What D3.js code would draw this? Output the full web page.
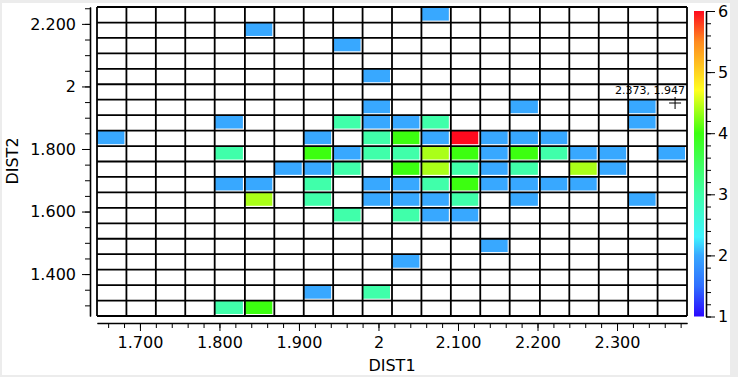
<!DOCTYPE html>
<html>
<head>
<meta charset="utf-8">
<script src="https://cdn.jsdelivr.net/npm/d3@7/dist/d3.min.js"></script>
<style>
body { margin: 0; background: #ececec; }
svg { display: block; font-family: "DejaVu Sans", sans-serif; }
</style>
</head>
<body>
<svg id="chart" width="738" height="377"></svg>
<script>
// lower edges of the DIST1 bins, left to right
var dist1Bins = [1.646, 1.683, 1.720, 1.757, 1.794, 1.832, 1.869, 1.906, 1.943, 1.980,
                 2.017, 2.054, 2.091, 2.128, 2.165, 2.203, 2.240, 2.277, 2.314, 2.351];
var dist1Max = 2.388;
// lower edges of the DIST2 bins, top row first
var dist2Bins = [2.204, 2.155, 2.106, 2.056, 2.007, 1.958, 1.908, 1.859, 1.809, 1.760,
                 1.711, 1.661, 1.612, 1.562, 1.513, 1.464, 1.414, 1.365, 1.315, 1.266];
var dist2Max = 2.254;

// one row per DIST2 bin (top first), one column per DIST1 bin, 0 = empty
var counts = [
  [0,0,0,0,0,0,0,0,0,0,0,2,0,0,0,0,0,0,0,0],
  [0,0,0,0,0,2,0,0,0,0,0,0,0,0,0,0,0,0,0,0],
  [0,0,0,0,0,0,0,0,2,0,0,0,0,0,0,0,0,0,0,0],
  [0,0,0,0,0,0,0,0,0,0,0,0,0,0,0,0,0,0,0,0],
  [0,0,0,0,0,0,0,0,0,2,0,0,0,0,0,0,0,0,0,0],
  [0,0,0,0,0,0,0,0,0,0,0,0,0,0,0,0,0,0,0,0],
  [0,0,0,0,0,0,0,0,0,2,0,0,0,0,2,0,0,0,2,0],
  [0,0,0,0,2,0,0,0,3,2,2,3,0,0,0,0,0,0,2,0],
  [2,0,0,0,0,0,0,2,0,3,4,2,6,2,2,2,0,0,0,0],
  [0,0,0,0,3,0,0,4,2,3,3,4.4,4,2,4,3,2,2,0,2],
  [0,0,0,0,0,0,2,2,3,0,4,4.4,3,2,3,0,4.4,2,0,0],
  [0,0,0,0,2,2,0,3,0,2,2,3,4,2,2,2,2,0,0,0],
  [0,0,0,0,0,4.4,0,3,0,2,2,2,3,0,2,0,0,0,2,0],
  [0,0,0,0,0,0,0,0,3,0,3,2,2,0,0,0,0,0,0,0],
  [0,0,0,0,0,0,0,0,0,0,0,0,0,0,0,0,0,0,0,0],
  [0,0,0,0,0,0,0,0,0,0,0,0,0,2,0,0,0,0,0,0],
  [0,0,0,0,0,0,0,0,0,0,2,0,0,0,0,0,0,0,0,0],
  [0,0,0,0,0,0,0,0,0,0,0,0,0,0,0,0,0,0,0,0],
  [0,0,0,0,0,0,0,2,0,3,0,0,0,0,0,0,0,0,0,0],
  [0,0,0,0,3,4,0,0,0,0,0,0,0,0,0,0,0,0,0,0]
];

var xTicks = [1.7, 1.8, 1.9, 2, 2.1, 2.2, 2.3];
var yTicks = [1.4, 1.6, 1.8, 2, 2.2];
var colorTicks = [1, 2, 3, 4, 5, 6];
var colorStops = [1, 1.5, 2, 2.3, 3, 3.5, 4, 4.4, 4.7, 5.5, 6];
var colorValues = ['#2a08ff', '#3070ff', '#38a8ff', '#40f4ff', '#40ffaa', '#40ff60',
                   '#3cff10', '#aaff18', '#ffff20', '#ff8a20', '#ff0a1e'];
var cursorPos = [2.373, 1.947];
var cursorLabel = '2.373, 1.947';

var svg = d3.select('#chart');

svg.append('rect')
    .attr('x', 2).attr('y', 3)
    .attr('width', 728).attr('height', 372)
    .attr('fill', '#fff');

var x = d3.scaleLinear().domain([dist1Bins[0], dist1Max]).range([97, 687]);
var y = d3.scaleLinear().domain([dist2Bins[dist2Bins.length - 1], dist2Max]).range([316, 7]);
var color = d3.scaleLinear().domain(colorStops).range(colorValues);

function fmt(d) {
    return d === Math.round(d) ? String(d) : d3.format('.3f')(d);
}

// cells
var cells = [];
counts.forEach(function (row, r) {
    row.forEach(function (v, c) {
        if (v > 0) cells.push({ r: r, c: c, v: v });
    });
});

function x1(c) { return c + 1 < dist1Bins.length ? dist1Bins[c + 1] : dist1Max; }
function y1(r) { return r > 0 ? dist2Bins[r - 1] : dist2Max; }

svg.append('g').selectAll('rect')
    .data(cells)
    .enter()
    .append('rect')
    .attr('x', function (d) { return x(dist1Bins[d.c]); })
    .attr('y', function (d) { return y(y1(d.r)); })
    .attr('width', function (d) { return x(x1(d.c)) - x(dist1Bins[d.c]) - 2; })
    .attr('height', function (d) { return y(dist2Bins[d.r]) - y(y1(d.r)) - 2; })
    .attr('fill', function (d) { return color(d.v); });

// grid lines on the bin edges
var xEdges = dist1Bins.concat([dist1Max]);
var yEdges = dist2Bins.concat([dist2Max]);
var grid = svg.append('g').attr('stroke', '#000').attr('stroke-width', 1.8);
grid.selectAll('line.v').data(xEdges).enter().append('line')
    .attr('x1', x).attr('x2', x)
    .attr('y1', y.range()[0]).attr('y2', y.range()[1]);
grid.selectAll('line.h').data(yEdges).enter().append('line')
    .attr('y1', y).attr('y2', y)
    .attr('x1', x.range()[0]).attr('x2', x.range()[1]);

// axes
function styleAxis(g) {
    g.select('.domain').attr('stroke-width', 1.6);
    g.selectAll('text').attr('font-size', 16).attr('fill', '#000')
        .attr('font-family', '"DejaVu Sans", sans-serif');
}

svg.append('g')
    .attr('transform', 'translate(0,323)')
    .call(d3.axisBottom(x).tickValues(d3.range(1.66, 2.39, 0.02)).tickFormat('').tickSize(5).tickSizeOuter(0));
svg.append('g')
    .attr('transform', 'translate(0,323)')
    .call(d3.axisBottom(x).tickValues(xTicks).tickFormat(fmt).tickSize(8).tickPadding(6).tickSizeOuter(0))
    .call(styleAxis);

svg.append('g')
    .attr('transform', 'translate(90,0)')
    .call(d3.axisLeft(y).tickValues(d3.range(1.3, 2.26, 0.05)).tickFormat('').tickSize(5).tickSizeOuter(0));
svg.append('g')
    .attr('transform', 'translate(90,0)')
    .call(d3.axisLeft(y).tickValues(yTicks).tickFormat(fmt).tickSize(8).tickPadding(6).tickSizeOuter(0))
    .call(styleAxis);

svg.append('text')
    .attr('x', 392).attr('y', 371)
    .attr('text-anchor', 'middle')
    .attr('font-size', 16)
    .text('DIST1');
svg.append('text')
    .attr('transform', 'translate(18,161) rotate(-90)')
    .attr('text-anchor', 'middle')
    .attr('font-size', 16)
    .text('DIST2');

// colour bar
var cy = d3.scaleLinear().domain([1, 6]).range([316.5, 11]);
var grad = svg.append('defs').append('linearGradient')
    .attr('id', 'cbar')
    .attr('x1', 0).attr('y1', 1).attr('x2', 0).attr('y2', 0);
grad.selectAll('stop').data(colorStops).enter().append('stop')
    .attr('offset', function (d) { return (d - 1) / 5; })
    .attr('stop-color', function (d) { return color(d); });

svg.append('rect')
    .attr('x', 694).attr('y', cy(6))
    .attr('width', 10).attr('height', cy(1) - cy(6))
    .attr('fill', 'url(#cbar)');

svg.append('g')
    .attr('transform', 'translate(706,0)')
    .call(d3.axisRight(cy).tickValues(d3.range(1, 6.01, 0.2)).tickFormat('').tickSize(5).tickSizeOuter(0));
svg.append('g')
    .attr('transform', 'translate(706,0)')
    .call(d3.axisRight(cy).tickValues(colorTicks).tickFormat(d3.format('d')).tickSize(9).tickPadding(3).tickSizeOuter(0))
    .call(styleAxis);

// cursor readout
var cx = x(cursorPos[0]), cyPos = y(cursorPos[1]);
svg.append('path')
    .attr('d', 'M' + (cx - 6) + ',' + cyPos + 'h12M' + cx + ',' + (cyPos - 6) + 'v12')
    .attr('stroke', '#000').attr('stroke-width', 1);
svg.append('text')
    .attr('x', cx + 10).attr('y', cyPos - 9)
    .attr('text-anchor', 'end')
    .attr('font-size', 11)
    .text(cursorLabel);
</script>
</body>
</html>
